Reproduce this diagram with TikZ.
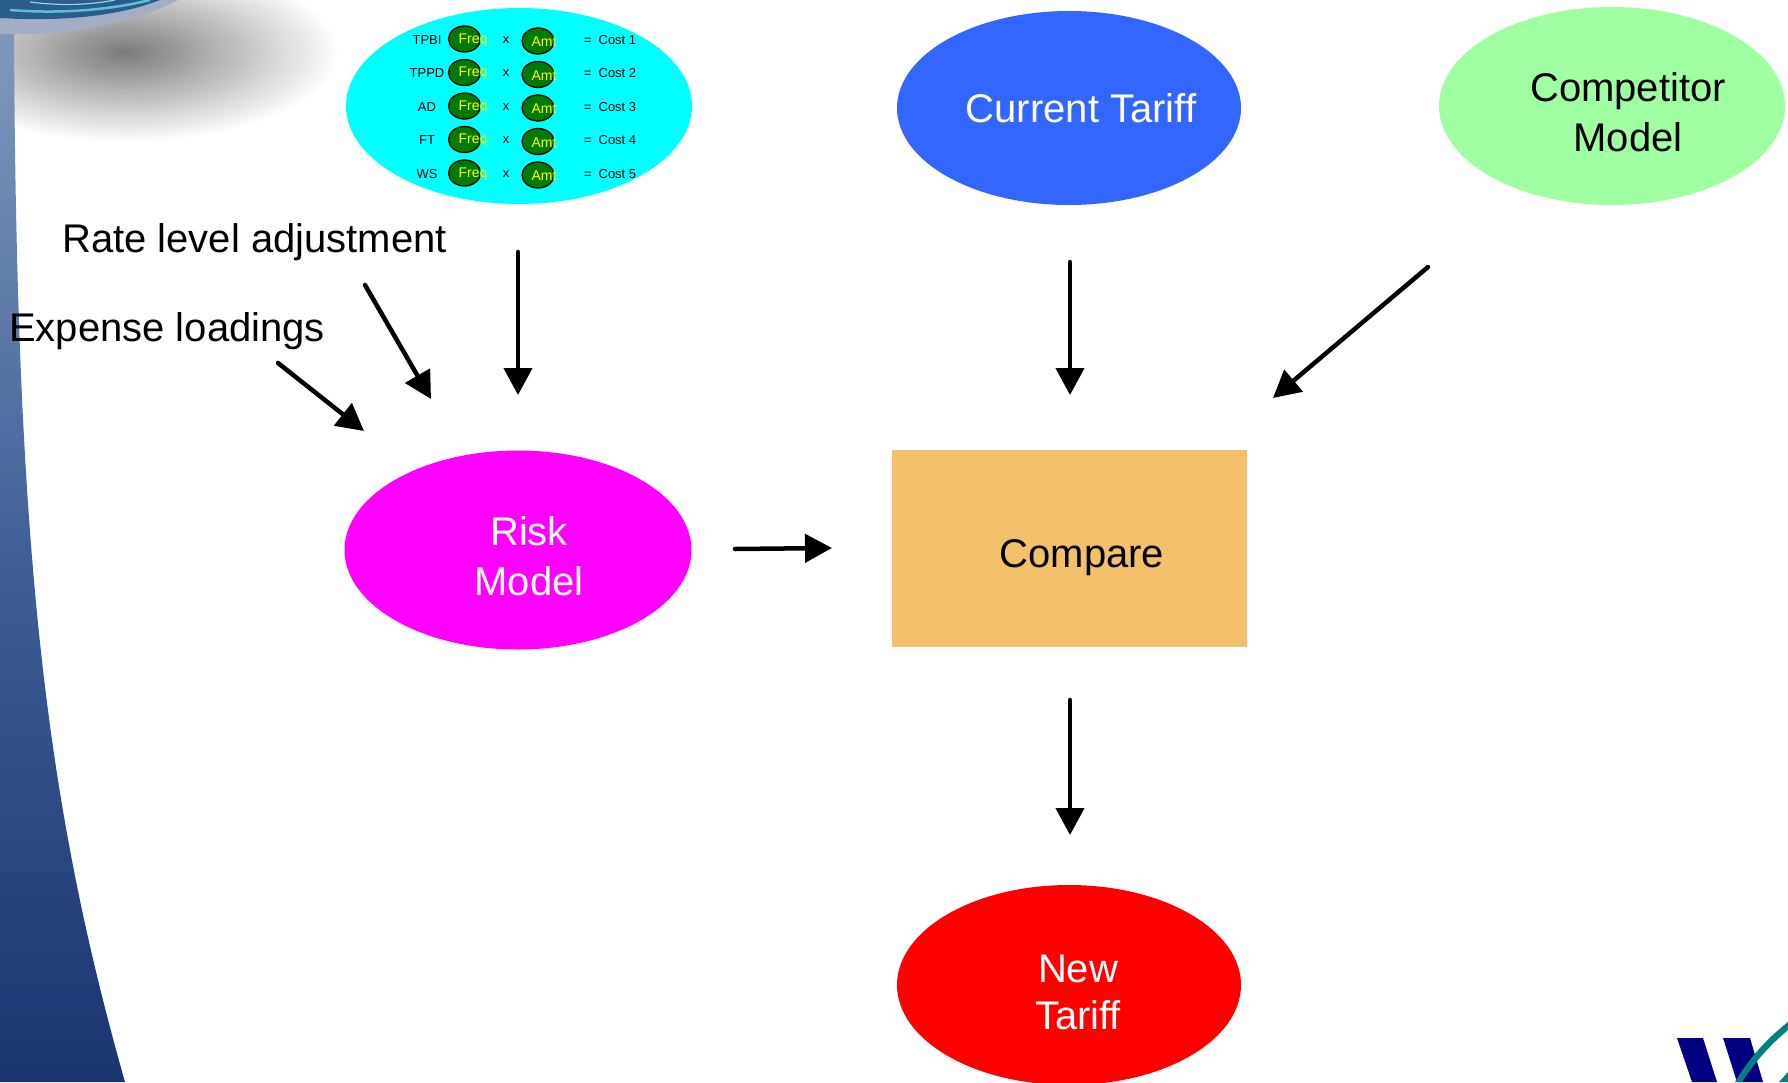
\documentclass[tikz,border=0pt]{standalone}
\usepackage{fontspec}
\setmainfont{Liberation Sans}
\usetikzlibrary{shapes.geometric,arrows.meta}

\definecolor{costcyan}{HTML}{00FFFF}
\definecolor{tariffblue}{HTML}{3366FF}
\definecolor{compgreen}{HTML}{A0FFA0}
\definecolor{riskmagenta}{HTML}{FF00FF}
\definecolor{comparefill}{HTML}{F5C06B}
\definecolor{newred}{HTML}{FF0000}
\definecolor{cellgreen}{HTML}{007A00}
\definecolor{cellyellow}{HTML}{FFFF00}
\definecolor{bandtop}{HTML}{8299BE}
\definecolor{bandmid}{HTML}{3F5F98}
\definecolor{bandbot}{HTML}{1A3470}
\definecolor{globeblue}{HTML}{2B5C8E}
\definecolor{globeteal}{HTML}{5FC0D8}
\definecolor{globerim}{HTML}{A3AEC4}
\definecolor{logonavy}{HTML}{000080}
\definecolor{logoteal}{HTML}{008080}

\tikzset{
  blob/.style={ellipse, draw=none, inner sep=0pt},
  bigtext/.style={font=\fontsize{40}{50}\selectfont, align=center, inner sep=0pt},
  smalltext/.style={font=\fontsize{13}{15}\selectfont, inner sep=0pt},
  cell/.style={ellipse, draw=black, line width=1.3pt, fill=cellgreen,
    minimum width=32pt, minimum height=26pt, inner sep=0pt},
  celltext/.style={font=\fontsize{14}{15}\selectfont, text=cellyellow, inner sep=0pt},
  flow/.style={line width=4.5pt, line cap=round, draw=black,
    -{Triangle[length=27pt,width=28pt]}}
}

\begin{document}
\begin{tikzpicture}[x=1pt,y=-1pt]
\useasboundingbox (0,0) rectangle (1788,1082);
\clip (0,0) rectangle (1788,1082);
\fill[white] (0,0) rectangle (1788,1082);

% soft shadow under the globe in the corner
\shade[inner color=black!52, outer color=white] (125,52) ellipse [x radius=215, y radius=90];

% curved blue band down the left edge
\shade[top color=bandtop, bottom color=bandbot, middle color=bandmid]
  (0,28) -- (14,28) .. controls (16,550) and (45,800) .. (125,1082) -- (0,1082) -- cycle;

% globe in the corner
\fill[globerim] (0,18) .. controls (60,22) and (120,16) .. (160,0) -- (178,0)
  .. controls (130,26) and (60,36) .. (0,34) -- cycle;
\fill[globeblue] (0,0) -- (160,0) .. controls (120,16) and (60,22) .. (0,18) -- cycle;
\draw[globeteal, line width=2.5pt] (10,10) .. controls (60,14) and (110,10) .. (150,0);
\draw[globeteal!70!white, line width=1.2pt] (30,2) .. controls (60,6) and (90,5) .. (115,0);

% cost build-up ellipse
\node[blob, fill=costcyan, minimum width=346pt, minimum height=196pt] (costs) at (519,106) {};
\foreach \lab [count=\i from 0] in {TPBI,TPPD,AD,FT,WS} {
  \pgfmathsetmacro{\ry}{40+33.5*\i}
  \pgfmathtruncatemacro{\num}{\i+1}
  \node[smalltext] (lab\i) at (427,\ry) {\lab};
  \node[cell] (freq\i) at (464.5,\ry-1) {};
  \node[celltext] (freqtext\i) at (473,\ry) {Freq};
  \node[smalltext] (times\i) at (506,\ry) {x};
  \node[cell] (amt\i) at (538,\ry+1) {};
  \node[celltext] (amttext\i) at (544,\ry+2) {Amt};
  \node[smalltext] (cost\i) at (610,\ry) {=\ \ Cost \num};
}

% main boxes
\node[blob, fill=tariffblue, minimum width=344pt, minimum height=194pt] (current) at (1069,108) {};
\node[bigtext, text=white] (currenttext) at (1081,108) {Current Tariff};

\node[blob, fill=compgreen, minimum width=346pt, minimum height=198pt] (competitor) at (1612,106) {};
\node[bigtext] (competitortext) at (1628,112) {Competitor\\Model};

\node[blob, fill=riskmagenta, minimum width=347pt, minimum height=199pt] (risk) at (518,550) {};
\node[bigtext, text=white] (risktext) at (529,556) {Risk\\Model};

\node[rectangle, fill=comparefill, minimum width=355pt, minimum height=197pt, inner sep=0pt] (compare) at (1069.5,548.5) {};
\node[bigtext] (comparetext) at (1082,558) {Compare};

\node[blob, fill=newred, minimum width=344pt, minimum height=200pt] (new) at (1069,985) {};
\node[font=\fontsize{40}{47}\selectfont, align=center, inner sep=0pt, text=white] (newtext) at (1078,992) {New\\Tariff};

% side inputs
\node[bigtext, anchor=west] (rate) at (62,242) {Rate level adjustment};
\node[bigtext, anchor=west] (expense) at (9,331) {Expense loadings};

% arrow end points
\coordinate (rateA) at (365,285);   \coordinate (rateB) at (431,399);
\coordinate (expA) at (278,363);    \coordinate (expB) at (364,431);
\coordinate (costA) at (518,252);   \coordinate (costB) at (518,395);
\coordinate (curA) at (1070,262);   \coordinate (curB) at (1070,395);
\coordinate (compA) at (1428,267);  \coordinate (compB) at (1273,398);
\coordinate (riskA) at (735,549);   \coordinate (riskB) at (832,548);
\coordinate (cmpA) at (1070,700);   \coordinate (cmpB) at (1070,835);

\draw[flow] (rateA) -- (rateB);
\draw[flow] (expA) -- (expB);
\draw[flow] (costA) -- (costB);
\draw[flow] (curA) -- (curB);
\draw[flow] (compA) -- (compB);
\draw[flow] (riskA) -- (riskB);
\draw[flow] (cmpA) -- (cmpB);

% logo in the lower right corner
\fill[logonavy] (1677,1038) -- (1703,1038) -- (1717,1082) -- (1692,1082) -- cycle;
\fill[logonavy] (1723,1038) -- (1750,1038) -- (1763,1082) -- (1737,1082) -- cycle;
\fill[logoteal] (1788,1022) .. controls (1765,1040) and (1748,1060) .. (1735,1082)
  -- (1742,1082) .. controls (1754,1063) and (1770,1045) .. (1788,1030) -- cycle;
\fill[logoteal] (1779,1082) -- (1788,1072) -- (1788,1082) -- cycle;
\end{tikzpicture}
\end{document}
